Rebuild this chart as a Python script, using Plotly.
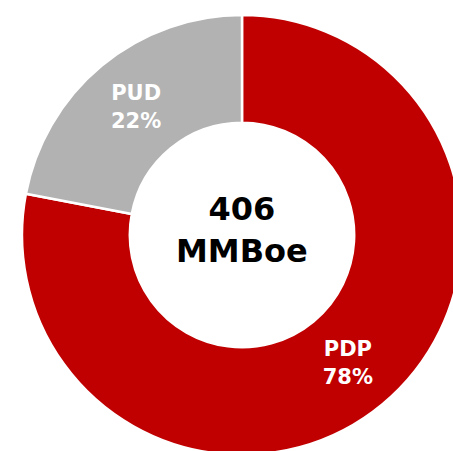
import plotly.graph_objects as go

labels = ["PDP", "PUD"]
values = [78, 22]
colors = ["#C00000", "#B2B2B2"]
center_text = "406<br>MMBoe"

W, H = 462, 455
R = 220
cx, cy = 242, 235  # from top-left

fig = go.Figure(go.Pie(
    labels=labels,
    values=values,
    sort=False,
    direction="clockwise",
    rotation=0,
    hole=0.51,
    marker=dict(colors=colors, line=dict(color="white", width=2.5)),
    textinfo="label+percent",
    textposition="inside",
    insidetextorientation="horizontal",
    insidetextfont=dict(family="DejaVu Sans", size=21, color="white", weight="bold"),
    showlegend=False,
    hoverinfo="label+percent",
    domain=dict(x=[(cx - R) / W, (cx + R) / W], y=[(H - cy - R) / H, (H - cy + R) / H]),
))

fig.add_annotation(
    x=cx / W, y=(H - cy) / H, xref="paper", yref="paper",
    text=center_text, showarrow=False,
    font=dict(family="DejaVu Sans", size=32, color="black", weight="bold"),
    xanchor="center", yanchor="middle", yshift=5,
)

fig.update_layout(
    width=W, height=H,
    margin=dict(l=0, r=0, t=0, b=0),
    paper_bgcolor="white", plot_bgcolor="white",
)

fig.write_html("out.html", config={"displayModeBar": False},
               post_script="document.body.style.margin='0';document.body.style.overflow='hidden';")
